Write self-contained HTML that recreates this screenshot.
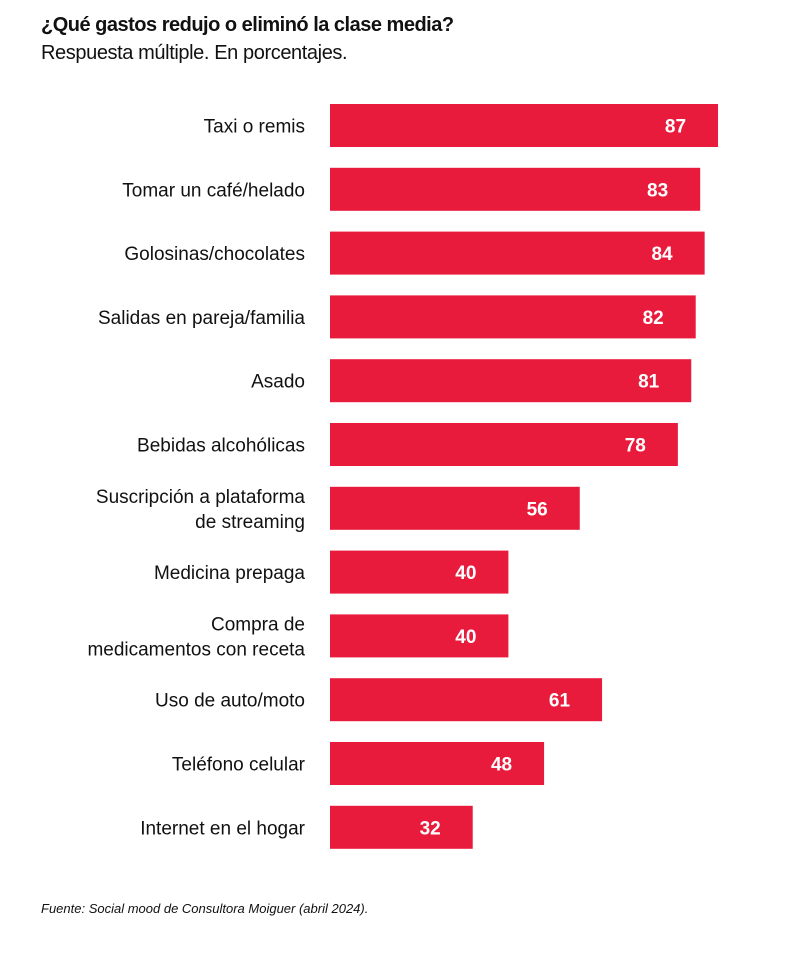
<!DOCTYPE html>
<html><head><meta charset="utf-8"><style>
body{margin:0;background:#fff;font-family:"Liberation Sans",sans-serif;}
#wrap{position:relative;width:800px;height:975px;overflow:hidden;}
.t{position:absolute;left:41px;color:#111;}
</style></head><body>
<div id="wrap">
<div class="t" style="top:14px;font-size:20px;font-weight:bold;letter-spacing:-0.5px">¿Qué gastos redujo o eliminó la clase media?</div>
<div class="t" style="top:42px;font-size:20px;letter-spacing:-0.4px">Respuesta múltiple. En porcentajes.</div>
<svg id="c" width="800" height="975" style="position:absolute;left:0;top:0"></svg>
<div class="t" style="top:901px;font-size:13px;font-style:italic">Fuente: Social mood de Consultora Moiguer (abril 2024).</div>
</div>
<script>
const categories=[["Taxi o remis"],["Tomar un café/helado"],["Golosinas/chocolates"],["Salidas en pareja/familia"],["Asado"],["Bebidas alcohólicas"],["Suscripción a plataforma","de streaming"],["Medicina prepaga"],["Compra de","medicamentos con receta"],["Uso de auto/moto"],["Teléfono celular"],["Internet en el hogar"]];
const values=[87,83,84,82,81,78,56,40,40,61,48,32];
const NS="http://www.w3.org/2000/svg";
const svg=document.getElementById('c');
const x0=330,k=4.46;
function xs(v){return x0+v*k;}
function yTop(i){return 104+i*63.8;}
const bh=43;
values.forEach((v,i)=>{
  const y=yTop(i);
  const r=document.createElementNS(NS,'rect');
  r.setAttribute('x',x0);r.setAttribute('y',y);r.setAttribute('width',xs(v)-x0);r.setAttribute('height',bh);r.setAttribute('fill','#e91b3c');
  
  
  svg.appendChild(r);
  const t=document.createElementNS(NS,'text');
  t.setAttribute('x',xs(v)-32);t.setAttribute('y',y+bh/2+7);t.setAttribute('text-anchor','end');
  t.setAttribute('font-size','19');t.setAttribute('font-weight','bold');t.setAttribute('fill','#fff');
  t.setAttribute('font-family','Liberation Sans, sans-serif');
  t.textContent=v;
  
  
  svg.appendChild(t);
  const lines=categories[i];
  lines.forEach((s,j)=>{
    const l=document.createElementNS(NS,'text');
    const cy=y+bh/2+7+(j-(lines.length-1)/2)*25;
    l.setAttribute('x',305);l.setAttribute('y',cy);l.setAttribute('text-anchor','end');
    l.setAttribute('font-size','19');l.setAttribute('fill','#111');
    l.setAttribute('font-family','Liberation Sans, sans-serif');
    l.textContent=s;
    
    
    svg.appendChild(l);
  });
});
</script>
</body></html>
